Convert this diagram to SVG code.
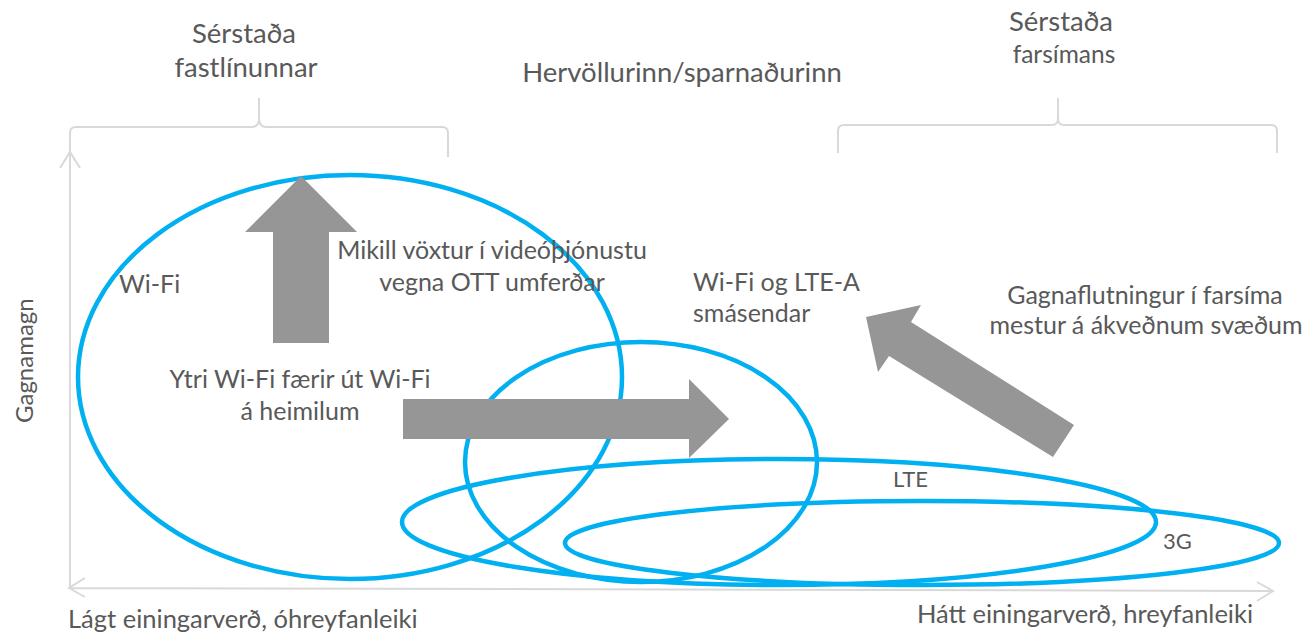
<svg xmlns="http://www.w3.org/2000/svg" width="1304" height="634" viewBox="0 0 1304 634">
<style>
text{font-family:Lato,"Liberation Sans",sans-serif;fill:#595959;font-size:25px}
.hd{font-size:27.5px}
.sub{font-size:24.5px}
.sm{font-size:22px}
.ax{font-size:25.5px}
.axis{stroke:#d9d9d9;stroke-width:2;fill:none}
.brace{stroke:#d9d9d9;stroke-width:2;fill:none}
.zone{stroke:#00b0f0;stroke-width:4.5;fill:none}
.blk{fill:#969696;stroke:none}
</style>
<rect width="1304" height="634" fill="#ffffff"/>
<g id="axes">
<path class="axis" d="M70,588 V150 M60,168 L70,152 L80,168"/>
<path class="axis" d="M69,588 L1273,591 M85,578 L69,588 L85,597 M1257,582 L1273,591 L1257,601"/>
<text x="33" y="423" transform="rotate(-90 33 423)" style="font-size:24px">Gagnamagn</text>
<text x="68" y="628" class="ax">Lágt einingarverð, óhreyfanleiki</text>
<text x="917" y="623" class="ax">Hátt einingarverð, hreyfanleiki</text>
</g>
<g id="brace-fixed">
<path class="brace" d="M70,157 V133 Q70,127 76,127 H252 Q258,127 259,120 V98 M259,120 Q260,127 266,127 H442 Q448,127 448,133 V157"/>
<text x="244" y="43" text-anchor="middle" class="hd">Sérstaða</text>
<text x="246" y="77" text-anchor="middle" class="hd">fastlínunnar</text>
</g>
<g id="brace-mobile">
<path class="brace" d="M838,153 V131 Q838,125 844,125 H1052 Q1058,125 1058,118 V98 M1058,118 Q1058,125 1064,125 H1271 Q1277,125 1277,131 V153"/>
<text x="1061" y="31" text-anchor="middle" class="hd">Sérstaða</text>
<text x="1064" y="63" text-anchor="middle" class="sub">farsímans</text>
</g>
<g id="middle-label">
<text x="682" y="82" text-anchor="middle" class="hd">Hervöllurinn/sparnaðurinn</text>
</g>
<g id="wifi">
<ellipse class="zone" cx="350" cy="377" rx="272" ry="202"/>
</g>
<g id="wifi-lte-a">
<ellipse class="zone" cx="641" cy="462" rx="176" ry="120"/>
</g>
<g id="lte">
<ellipse class="zone" cx="779" cy="522" rx="377" ry="63"/>
</g>
<g id="g3">
<ellipse class="zone" cx="922" cy="543" rx="357" ry="42"/>
</g>
<g id="connectors">
<polygon class="blk" points="301,176 357,232 329,232 329,343 273,343 273,232 245,232"/>
<polygon class="blk" points="403,399 689,399 689,379 729,419 689,458 689,439 403,439"/>
<polygon class="blk" points="866,317 921,305 911,322 1074,425 1053,457 889,356 878,372"/>
</g>
<g id="labels">
<text x="119" y="293">Wi-Fi</text>
<text x="492" y="259" text-anchor="middle">Mikill vöxtur í videóþjónustu</text>
<text x="492" y="291" text-anchor="middle">vegna OTT umferðar</text>
<text x="300" y="388" text-anchor="middle">Ytri Wi-Fi færir út Wi-Fi</text>
<text x="300" y="420" text-anchor="middle">á heimilum</text>
<text x="693" y="291">Wi-Fi og LTE-A</text>
<text x="693" y="322">smásendar</text>
<text x="1145" y="304" text-anchor="middle">Gagnaflutningur í farsíma</text>
<text x="1146" y="334" text-anchor="middle">mestur á ákveðnum svæðum</text>
<text x="893" y="487" class="sm">LTE</text>
<text x="1163" y="549" class="sm">3G</text>
</g>
</svg>
